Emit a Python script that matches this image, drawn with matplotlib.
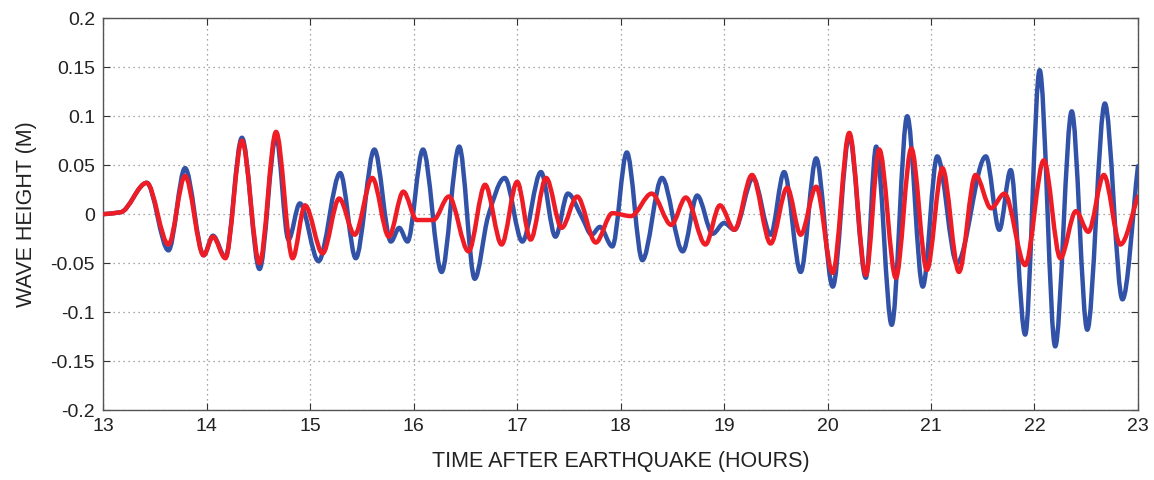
import numpy as np
import matplotlib
matplotlib.use("Agg")
import matplotlib.pyplot as plt
from matplotlib.path import Path
from matplotlib.patches import PathPatch

plt.rcParams['font.family'] = ['Liberation Sans', 'DejaVu Sans']

# ---- data (turning points, hours / metres) ----
blue_t = [13.00, 13.17, 13.42, 13.63, 13.79, 13.97, 14.06, 14.18, 14.34, 14.51,
          14.67, 14.79, 14.90, 15.08, 15.29, 15.44, 15.62, 15.78, 15.86, 15.94,
          16.09, 16.27, 16.44, 16.59, 16.72, 16.88, 17.05, 17.23, 17.37, 17.49,
          17.63, 17.72, 17.80, 17.92, 18.06, 18.21, 18.40, 18.60, 18.74, 18.89,
          19.00, 19.10, 19.28, 19.45, 19.58, 19.74, 19.89, 20.05, 20.21, 20.37,
          20.47, 20.62, 20.77, 20.92, 21.06, 21.25, 21.53, 21.66, 21.77, 21.91,
          22.05, 22.20, 22.36, 22.51, 22.68, 22.85, 23.00]
blue_v = [0.000, 0.002, 0.032, -0.037, 0.047, -0.042, -0.022, -0.044, 0.078, -0.056,
          0.079, -0.026, 0.011, -0.048, 0.042, -0.045, 0.066, -0.028, -0.014, -0.028,
          0.066, -0.059, 0.069, -0.066, -0.002, 0.037, -0.028, 0.043, -0.023, 0.021,
          -0.004, -0.021, -0.013, -0.033, 0.063, -0.047, 0.037, -0.038, 0.019, -0.020,
          -0.009, -0.016, 0.037, -0.021, 0.043, -0.059, 0.057, -0.074, 0.080, -0.065,
          0.069, -0.113, 0.100, -0.074, 0.059, -0.050, 0.059, -0.016, 0.045, -0.123,
          0.147, -0.135, 0.105, -0.118, 0.113, -0.087, 0.049]

red_t = [13.00, 13.17, 13.42, 13.63, 13.79, 13.97, 14.06, 14.18, 14.34, 14.51,
         14.67, 14.83, 14.95, 15.12, 15.28, 15.43, 15.60, 15.76, 15.90, 16.03,
         16.19, 16.34, 16.53, 16.69, 16.85, 17.00, 17.13, 17.28, 17.43, 17.58,
         17.76, 17.92, 18.10, 18.30, 18.49, 18.63, 18.82, 18.96, 19.10, 19.27,
         19.45, 19.61, 19.74, 19.89, 20.05, 20.21, 20.37, 20.50, 20.66, 20.81,
         20.96, 21.11, 21.27, 21.43, 21.58, 21.71, 21.91, 22.09, 22.25, 22.40,
         22.52, 22.67, 22.83, 23.00]
red_v = [0.000, 0.002, 0.032, -0.031, 0.039, -0.042, -0.023, -0.045, 0.075, -0.050,
         0.084, -0.045, 0.009, -0.040, 0.016, -0.021, 0.037, -0.023, 0.023, -0.006,
         -0.006, 0.018, -0.038, 0.030, -0.031, 0.033, -0.026, 0.037, -0.014, 0.018,
         -0.029, 0.001, -0.002, 0.021, -0.011, 0.017, -0.031, 0.009, -0.016, 0.040,
         -0.030, 0.027, -0.021, 0.028, -0.060, 0.083, -0.062, 0.066, -0.065, 0.067,
         -0.057, 0.047, -0.059, 0.040, 0.006, 0.021, -0.052, 0.055, -0.045, 0.003,
         -0.018, 0.040, -0.031, 0.018]

x_ticks = [13, 14, 15, 16, 17, 18, 19, 20, 21, 22, 23]
y_ticks = [0.2, 0.15, 0.1, 0.05, 0, -0.05, -0.1, -0.15, -0.2]
y_tick_labels = ['0.2', '0.15', '0.1', '0.05', '0', '-0.05', '-0.1', '-0.15', '-0.2']


def smooth_path(t, v):
    """Bezier path through the read points (monotone Hermite tangents)."""
    t = np.asarray(t, float)
    v = np.asarray(v, float)
    h = np.diff(t)
    d = np.diff(v) / h
    m = np.zeros_like(v)
    for i in range(1, len(v) - 1):
        if d[i - 1] * d[i] > 0:
            w1 = 2 * h[i] + h[i - 1]
            w2 = h[i] + 2 * h[i - 1]
            m[i] = (w1 + w2) / (w1 / d[i - 1] + w2 / d[i])
    m[0] = d[0]
    m[-1] = d[-1]
    verts = [(t[0], v[0])]
    codes = [Path.MOVETO]
    for i in range(len(t) - 1):
        verts += [(t[i] + h[i] / 3, v[i] + m[i] * h[i] / 3),
                  (t[i + 1] - h[i] / 3, v[i + 1] - m[i + 1] * h[i] / 3),
                  (t[i + 1], v[i + 1])]
        codes += [Path.CURVE4] * 3
    return Path(verts, codes)


fig = plt.figure(figsize=(11.54, 4.8), dpi=100)
ax = fig.add_axes([0.0895, 0.1458, 0.8966, 0.8161])

ax.add_patch(PathPatch(smooth_path(blue_t, blue_v), fill=False,
                       edgecolor='#3252a8', lw=3.2, capstyle='round',
                       joinstyle='round', zorder=3))
ax.add_patch(PathPatch(smooth_path(red_t, red_v), fill=False,
                       edgecolor='#ee1c24', lw=3.2, capstyle='round',
                       joinstyle='round', zorder=4))

ax.set_xlim(13, 23)
ax.set_ylim(-0.2, 0.2)
ax.set_xticks(x_ticks)
ax.set_xticklabels([str(v) for v in x_ticks])
ax.set_yticks(y_ticks)
ax.set_yticklabels(y_tick_labels)

ax.grid(True, color='#8a8a8a', linestyle=(0, (1, 3)), linewidth=0.9)
ax.tick_params(direction='in', top=True, right=True, length=5,
               labelsize=14, colors='#333333', labelcolor='#222222', pad=6)
for s in ax.spines.values():
    s.set_color('#555555')
    s.set_linewidth(1.0)

ax.set_xlabel('TIME AFTER EARTHQUAKE (HOURS)', fontsize=15.5, color='#222222', labelpad=11)
ax.set_ylabel('WAVE HEIGHT (M)', fontsize=15.5, color='#222222', labelpad=10)

fig.savefig('out.png', dpi=100)
